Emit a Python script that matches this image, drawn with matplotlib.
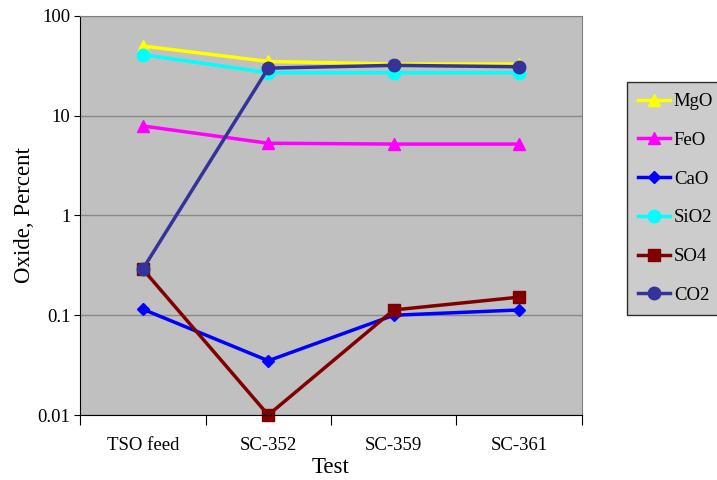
import matplotlib
matplotlib.use("Agg")
import matplotlib.pyplot as plt

# test names and oxide percentages
tests = ["TSO feed", "SC-352", "SC-359", "SC-361"]
mgo = [50, 35, 33, 33]
feo = [7.9, 5.3, 5.2, 5.2]
cao = [0.115, 0.035, 0.10, 0.113]
sio2 = [41, 27, 27, 27]
so4 = [0.29, 0.01, 0.113, 0.152]
co2 = [0.29, 30, 32, 31]

plt.rcParams['font.family'] = ['Liberation Serif', 'DejaVu Serif']

fig = plt.figure(figsize=(7.17, 4.8), dpi=100)
ax = fig.add_axes([0.1116, 0.1354, 0.7001, 0.8313])
ax.set_facecolor('#c0c0c0')

x = list(range(len(tests)))
ax.plot(x, mgo, color='#ffff00', marker='^', markersize=8, linewidth=2.5, label='MgO')
ax.plot(x, feo, color='#ff00ff', marker='^', markersize=8, linewidth=2.5, label='FeO')
ax.plot(x, cao, color='#0000ff', marker='D', markersize=6, linewidth=2.5, label='CaO')
ax.plot(x, sio2, color='#00ffff', marker='o', markersize=9, linewidth=2.5, label='SiO2')
ax.plot(x, so4, color='#800000', marker='s', markersize=8, linewidth=2.5, label='SO4',
        clip_on=False)
ax.plot(x, co2, color='#333399', marker='o', markersize=9, linewidth=2.5, label='CO2')

ax.set_yscale('log')
ax.set_ylim(0.01, 100)
ax.set_xlim(-0.5, len(tests) - 0.5)
ax.set_yticks([0.01, 0.1, 1, 10, 100])
ax.set_yticklabels(['0.01', '0.1', '1', '10', '100'])
ax.minorticks_off()
ax.yaxis.grid(True, color='#888888', linewidth=1)
ax.set_axisbelow(True)

# category boundaries as ticks, names centred between them
ax.set_xticks([i - 0.5 for i in range(len(tests) + 1)])
ax.set_xticklabels([])
ax.set_xticks(x, minor=True)
ax.set_xticklabels(tests, minor=True)
ax.tick_params(axis='x', which='major', length=7, color='black')
ax.tick_params(axis='x', which='minor', length=0, labelsize=13.5, pad=16)
ax.tick_params(axis='y', which='major', length=4, labelsize=13.5, pad=3)

for side in ['top', 'right']:
    ax.spines[side].set_color('#808080')
ax.spines['left'].set_color('black')
ax.spines['bottom'].set_color('black')

ax.set_xlabel('Test', fontsize=16.5, labelpad=2)
ax.set_ylabel('Oxide, Percent', fontsize=16.5, labelpad=2)

leg = ax.legend(loc='upper left', bbox_to_anchor=(1.0896, 0.8346), fontsize=13.5,
                frameon=True, fancybox=False, edgecolor='black', facecolor='#c0c0c0',
                handlelength=1.7, labelspacing=1.15, borderpad=0.6, handletextpad=0.2,
                borderaxespad=0)
leg.get_frame().set_linewidth(1)

fig.savefig('out.png', dpi=100)
